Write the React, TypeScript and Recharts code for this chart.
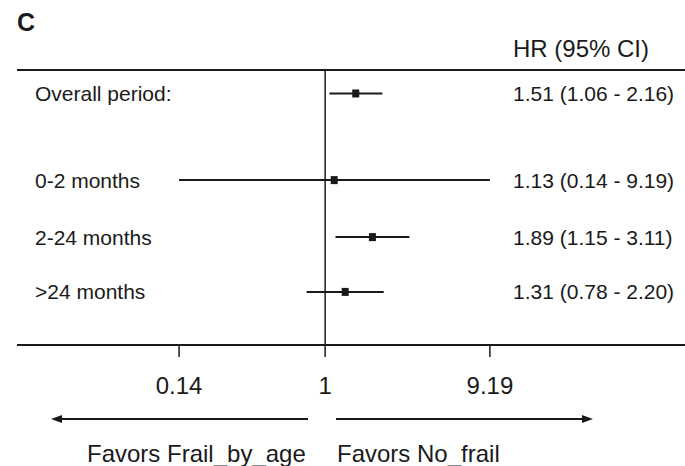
import { ScatterChart, Scatter, XAxis, YAxis, ErrorBar, ReferenceLine, Customized } from "recharts";

const ROW_LABELS = ["Overall period:", "0-2 months", "2-24 months", ">24 months"];
const ROW_POS = [1, 2.55, 3.57, 4.55];
const HR = [1.51, 1.13, 1.89, 1.31];
const CI_LOW = [1.06, 0.14, 1.15, 0.78];
const CI_HIGH = [2.16, 9.19, 3.11, 2.2];
const X_TICKS = [0.14, 1, 9.19];

const FONT = "'Liberation Sans', Arial, Helvetica, sans-serif";
const INK = "#1a1a1a";

const rows = ROW_LABELS.map((name, i) => ({
  name,
  hr: HR[i],
  row: ROW_POS[i],
  ci: [HR[i] - CI_LOW[i], CI_HIGH[i] - HR[i]],
  text: `${HR[i].toFixed(2)} (${CI_LOW[i].toFixed(2)} - ${CI_HIGH[i].toFixed(2)})`,
}));

// row label on the left, HR text on the right, both on the same y tick
const renderRowTick = (props: any) => {
  const { y, payload } = props;
  const r = rows.find((d) => Math.abs(d.row - Number(payload.value)) < 1e-6);
  if (!r) return <g />;
  return (
    <g>
      <text x={35} y={y} dy="0.36em" fontSize={21} fontFamily={FONT} fill={INK} textAnchor="start">
        {r.name}
      </text>
      <text x={513} y={y} dy="0.36em" fontSize={21} fontFamily={FONT} fill={INK} textAnchor="start">
        {r.text}
      </text>
    </g>
  );
};

function Square(props: any) {
  const { cx, cy } = props;
  return <rect x={cx - 3.5} y={cy - 4} width={7} height={8} fill={INK} />;
}

function Annotations() {
  return (
    <g fontFamily={FONT} fill={INK}>
      <text x={17} y={31} fontSize={25} fontWeight="bold">C</text>
      <text x={513} y={57} fontSize={24}>HR (95% CI)</text>
      <line x1={60} y1={419} x2={308} y2={419} stroke={INK} strokeWidth={2} />
      <path d="M51,419 L62,415 L62,423 Z" fill={INK} />
      <line x1={336} y1={419} x2={584} y2={419} stroke={INK} strokeWidth={2} />
      <path d="M593,419 L582,415 L582,423 Z" fill={INK} />
      <text x={87} y={462} fontSize={24}>Favors Frail_by_age</text>
      <text x={337} y={462} fontSize={24}>Favors No_frail</text>
    </g>
  );
}

export default function App() {
  return (
    <div style={{ position: "absolute", left: 0, top: 0, width: 685, height: 466, background: "#fff" }}>
      <ScatterChart width={685} height={466} margin={{ top: 70, right: 0, bottom: 61, left: 17 }}>
        <XAxis
          type="number"
          dataKey="hr"
          scale="log"
          domain={[0.0158, 127]}
          allowDataOverflow
          ticks={X_TICKS}
          tickFormatter={(v: number) => String(v)}
          height={60}
          tickSize={12}
          tickMargin={20}
          axisLine={{ stroke: INK, strokeWidth: 2 }}
          tickLine={{ stroke: INK, strokeWidth: 1.5 }}
          tick={{ fontSize: 24, fontFamily: FONT, fill: INK }}
        />
        <YAxis
          type="number"
          dataKey="row"
          domain={[0.58, 5.5]}
          allowDataOverflow
          reversed
          ticks={ROW_POS}
          interval={0}
          mirror
          width={1}
          axisLine={false}
          tickLine={false}
          tick={renderRowTick}
        />
        <ReferenceLine y={0.58} stroke={INK} strokeWidth={2} />
        <ReferenceLine x={1} stroke={INK} strokeWidth={1.5} />
        <Scatter data={rows} shape={<Square />} isAnimationActive={false}>
          <ErrorBar dataKey="ci" direction="x" width={0} stroke={INK} strokeWidth={2} isAnimationActive={false} />
        </Scatter>
        <Customized component={Annotations} />
      </ScatterChart>
    </div>
  );
}
